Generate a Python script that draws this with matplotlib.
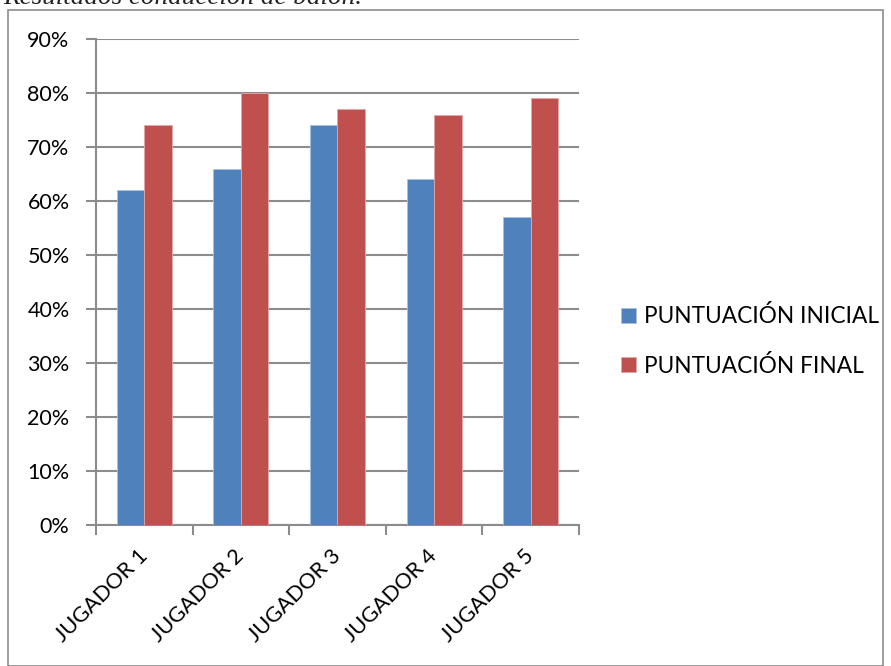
import matplotlib
matplotlib.use("Agg")
import matplotlib.pyplot as plt
import numpy as np
from matplotlib.patches import Rectangle

categories = ["JUGADOR 1", "JUGADOR 2", "JUGADOR 3", "JUGADOR 4", "JUGADOR 5"]
inicial = [62, 66, 74, 64, 57]
final = [74, 80, 77, 76, 79]
series_names = ["PUNTUACIÓN INICIAL", "PUNTUACIÓN FINAL"]
yticks = [0, 10, 20, 30, 40, 50, 60, 70, 80, 90]

W, H = 891, 666
fig = plt.figure(figsize=(W / 100, H / 100), dpi=100)
plt.rcParams['font.family'] = ['Lato', 'DejaVu Sans']

# outer frame
fig.patches.append(Rectangle((8 / W, 0.5 / H), (W - 8.5) / W - 8 / W, (H - 10) / H - 0.5 / H,
                             transform=fig.transFigure, fill=False,
                             edgecolor="#8c8c8c", linewidth=1.2, zorder=0))
# caption (cut off at the top edge, as in the reference)
fig.text(3 / W, 1 - 4 / H, "Resultados conducción de balón.", family="Liberation Serif",
         style="italic", fontsize=19.5, va="baseline", ha="left", color="#222222")

left, right, top, bottom = 96, 579, 39, 525
ax = fig.add_axes([left / W, 1 - bottom / H, (right - left) / W, (bottom - top) / H])

x = np.arange(len(categories))
bw = 0.285
grid_c = "#8c8c8c"
ax.bar(x - bw / 2, inicial, bw, color="#4F81BD", edgecolor="#a9c0de", linewidth=0.6,
       label=series_names[0], zorder=3)
ax.bar(x + bw / 2, final, bw, color="#C0504D", edgecolor="#e0a9a7", linewidth=0.6,
       label=series_names[1], zorder=3)

ax.set_xlim(-0.5, len(categories) - 0.5)
ax.set_ylim(0, 90)
ax.set_yticks(yticks)
ax.set_yticklabels([f"{v}%" for v in yticks], fontsize=15.5)
ax.yaxis.grid(True, color=grid_c, linewidth=1.5, zorder=0)
ax.set_axisbelow(True)

ax.set_xticks(np.arange(len(categories) + 1) - 0.5, minor=False)
ax.set_xticklabels([])
ax.set_xticks(x, minor=True)
ax.set_xticklabels(categories, minor=True, rotation=45, ha="right", va="center",
                   rotation_mode="anchor", fontsize=15.7)
ax.tick_params(axis="x", which="major", length=7, width=1.5, color=grid_c, direction="out")
ax.tick_params(axis="x", which="minor", length=0, pad=20)
ax.tick_params(axis="y", length=7, width=1.5, color=grid_c, direction="out", pad=12)

for s in ["top", "right"]:
    ax.spines[s].set_visible(False)
for s in ["left", "bottom"]:
    ax.spines[s].set_color(grid_c)
    ax.spines[s].set_linewidth(1.5)

leg = fig.legend(loc="center left", bbox_to_anchor=(621 / W, 1 - 341 / H), frameon=False,
                 borderpad=0, borderaxespad=0,
                 fontsize=16.3, handlelength=0.66, handleheight=0.66, handletextpad=0.35,
                 labelspacing=1.2)

fig.savefig("out.png", dpi=100)
